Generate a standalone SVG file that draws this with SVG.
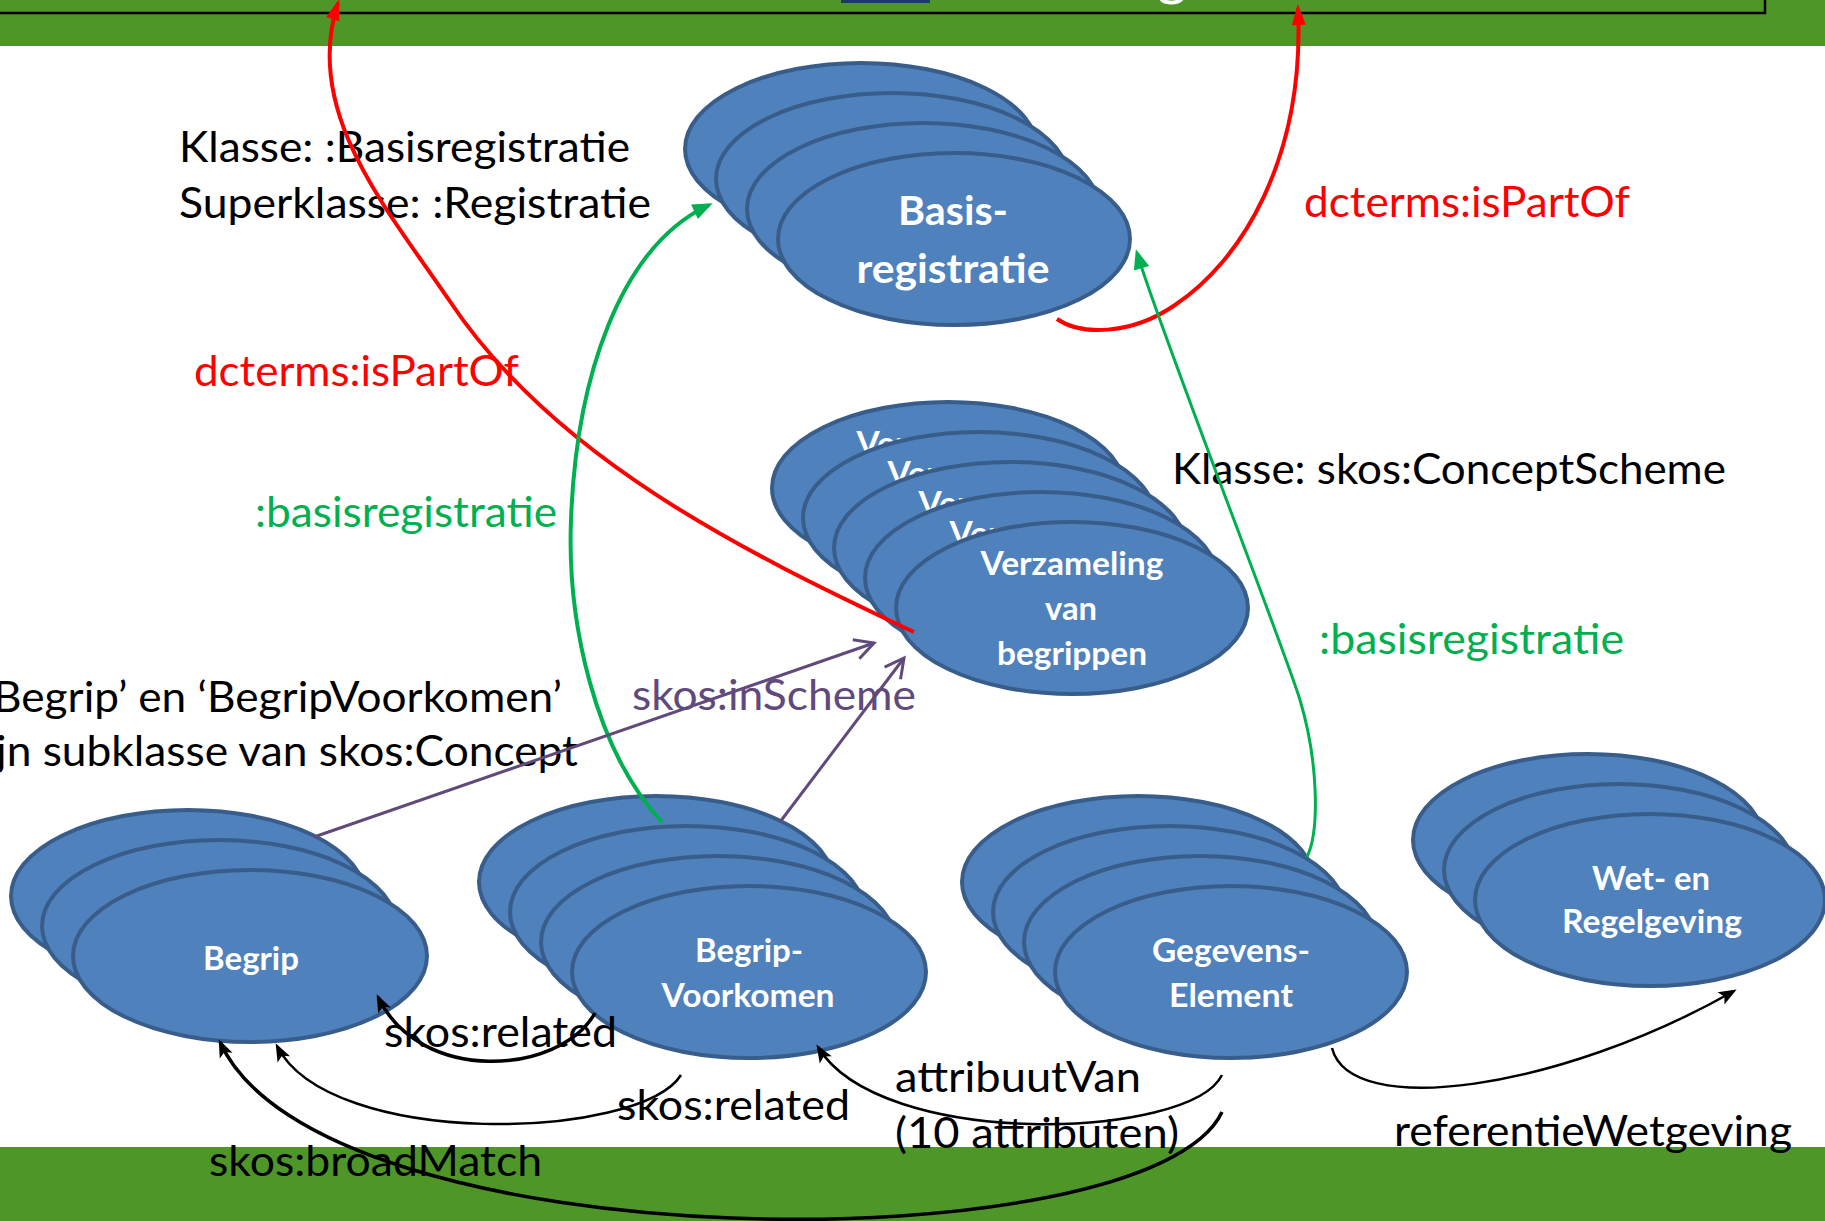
<svg xmlns="http://www.w3.org/2000/svg" width="1825" height="1221" viewBox="0 0 1825 1221">
<style>
.bg{fill:#ffffff}
.band{fill:#4F9628}
.el{fill:#4F81BD;stroke:#385D8A;stroke-width:4}
.nt{font-family:Lato,"Open Sans",sans-serif;font-weight:bold;fill:#ffffff;font-size:32px;text-anchor:middle}
.nt.big{font-size:40px}
.lbl{font-family:Lato,"Open Sans",sans-serif;font-size:42px;fill:#000000}
.red{fill:#FF0000}
.grn{fill:#00B050}
.pur{fill:#604A7B}
.c{fill:none}
.cr{stroke:#FF0000;stroke-width:4}
.cg{stroke:#00B050;stroke-width:4}
.cg2{stroke:#00B050;stroke-width:3}
.cp{stroke:#604A7B;stroke-width:3}
.ck{stroke:#000000;stroke-width:3.5}
.ck2{stroke:#000000;stroke-width:2.5}
</style>
<defs>
<marker id="ar" viewBox="-22 -10 26 20" refX="0" refY="0" markerWidth="26" markerHeight="20" markerUnits="userSpaceOnUse" orient="auto">
<path d="M4,0 L-17,-7 L-17,7 Z" fill="#FF0000"/>
</marker>
<marker id="ag" viewBox="-22 -10 26 20" refX="0" refY="0" markerWidth="26" markerHeight="20" markerUnits="userSpaceOnUse" orient="auto">
<path d="M4,0 L-16,-8 L-16,8 Z" fill="#00B050"/>
</marker>
<marker id="ap" viewBox="-24 -14 28 28" refX="0" refY="0" markerWidth="28" markerHeight="28" markerUnits="userSpaceOnUse" orient="auto">
<path d="M-19,-10 L0,0 L-19,10" fill="none" stroke="#604A7B" stroke-width="3"/>
</marker>
<marker id="ak" viewBox="-20 -10 24 20" refX="0" refY="0" markerWidth="24" markerHeight="20" markerUnits="userSpaceOnUse" orient="auto">
<path d="M3,0 L-15,-7 L-11,0 L-15,7 Z" fill="#000000"/>
</marker>
</defs>

<rect class="bg" x="0" y="0" width="1825" height="1221"/>
<g id="frame">
<rect class="band" x="0" y="0" width="1825" height="46"/>
<rect class="band" x="0" y="1147" width="1825" height="74"/>
<rect x="-10" y="-100" width="1775" height="113" fill="none" stroke="#000000" stroke-width="2.5"/>
<rect x="841" y="0" width="89" height="3" fill="#1F3A60"/>
<text x="1172" y="-6" font-family="Lato,sans-serif" font-size="58" fill="#ffffff" text-anchor="middle">g</text>
</g>

<g id="node-basisregistratie">
<ellipse class="el" cx="861" cy="149" rx="176" ry="86"/>
<ellipse class="el" cx="892" cy="179" rx="176" ry="86"/>
<ellipse class="el" cx="923" cy="209" rx="176" ry="86"/>
<ellipse class="el" cx="954" cy="239" rx="176" ry="86"/>
<text class="nt big" x="953" y="225" textLength="110" lengthAdjust="spacingAndGlyphs">Basis-</text>
<text class="nt big" x="953" y="283" textLength="193" lengthAdjust="spacingAndGlyphs">registratie</text>
</g>

<g id="node-verzameling">
<ellipse class="el" cx="948" cy="488" rx="176" ry="86"/>
<text class="nt" x="948" y="455" textLength="183" lengthAdjust="spacingAndGlyphs">Verzameling</text>
<ellipse class="el" cx="979" cy="518" rx="176" ry="86"/>
<text class="nt" x="979" y="485" textLength="183" lengthAdjust="spacingAndGlyphs">Verzameling</text>
<ellipse class="el" cx="1010" cy="548" rx="176" ry="86"/>
<text class="nt" x="1010" y="515" textLength="183" lengthAdjust="spacingAndGlyphs">Verzameling</text>
<ellipse class="el" cx="1041" cy="578" rx="176" ry="86"/>
<text class="nt" x="1041" y="545" textLength="183" lengthAdjust="spacingAndGlyphs">Verzameling</text>
<ellipse class="el" cx="1072" cy="608" rx="176" ry="86"/>
<text class="nt" x="1072" y="575" textLength="183" lengthAdjust="spacingAndGlyphs">Verzameling</text>
<text class="nt" x="1071" y="620" textLength="52" lengthAdjust="spacingAndGlyphs">van</text>
<text class="nt" x="1072" y="665" textLength="150" lengthAdjust="spacingAndGlyphs">begrippen</text>
</g>

<g id="node-begrip">
<ellipse class="el" cx="188" cy="896" rx="177" ry="86"/>
<ellipse class="el" cx="219" cy="926" rx="177" ry="86"/>
<ellipse class="el" cx="250" cy="956" rx="177" ry="86"/>
<text class="nt" x="251" y="970" textLength="96" lengthAdjust="spacingAndGlyphs">Begrip</text>
</g>

<g id="node-begripvoorkomen">
<ellipse class="el" cx="656" cy="882" rx="177" ry="86"/>
<ellipse class="el" cx="687" cy="912" rx="177" ry="86"/>
<ellipse class="el" cx="718" cy="942" rx="177" ry="86"/>
<ellipse class="el" cx="749" cy="972" rx="177" ry="86"/>
<text class="nt" x="749" y="962" textLength="108" lengthAdjust="spacingAndGlyphs">Begrip-</text>
<text class="nt" x="748" y="1007" textLength="173" lengthAdjust="spacingAndGlyphs">Voorkomen</text>
</g>

<g id="node-gegevenselement">
<ellipse class="el" cx="1138" cy="882" rx="176" ry="86"/>
<ellipse class="el" cx="1169" cy="912" rx="176" ry="86"/>
<ellipse class="el" cx="1200" cy="942" rx="176" ry="86"/>
<ellipse class="el" cx="1231" cy="972" rx="176" ry="86"/>
<text class="nt" x="1231" y="962" textLength="158" lengthAdjust="spacingAndGlyphs">Gegevens-</text>
<text class="nt" x="1231" y="1007" textLength="124" lengthAdjust="spacingAndGlyphs">Element</text>
</g>

<g id="node-wetgeving">
<ellipse class="el" cx="1588" cy="840" rx="175" ry="86"/>
<ellipse class="el" cx="1619" cy="870" rx="175" ry="86"/>
<ellipse class="el" cx="1650" cy="900" rx="175" ry="86"/>
<text class="nt" x="1651" y="890" textLength="118" lengthAdjust="spacingAndGlyphs">Wet- en</text>
<text class="nt" x="1652" y="933" textLength="180" lengthAdjust="spacingAndGlyphs">Regelgeving</text>
</g>

<g id="labels">
<text class="lbl" x="179" y="162" textLength="451" lengthAdjust="spacingAndGlyphs">Klasse: :Basisregistratie</text>
<text class="lbl" x="179" y="218" textLength="472" lengthAdjust="spacingAndGlyphs">Superklasse: :Registratie</text>
<text class="lbl red" x="194" y="386" textLength="325" lengthAdjust="spacingAndGlyphs">dcterms:isPartOf</text>
<text class="lbl grn" x="255" y="527" textLength="302" lengthAdjust="spacingAndGlyphs">:basisregistratie</text>
<text class="lbl red" x="1304" y="217" textLength="326" lengthAdjust="spacingAndGlyphs">dcterms:isPartOf</text>
<text class="lbl" x="1172" y="484" textLength="554" lengthAdjust="spacingAndGlyphs">Klasse: skos:ConceptScheme</text>
<text class="lbl grn" x="1319" y="654" textLength="305" lengthAdjust="spacingAndGlyphs">:basisregistratie</text>
<text class="lbl" x="-7" y="712" textLength="569" lengthAdjust="spacingAndGlyphs">Begrip’ en ‘BegripVoorkomen’</text>
<text class="lbl" x="-4" y="766" textLength="582" lengthAdjust="spacingAndGlyphs">jn subklasse van skos:Concept</text>
<text class="lbl pur" x="632" y="710" textLength="284" lengthAdjust="spacingAndGlyphs">skos:inScheme</text>
<text class="lbl" x="384" y="1047" textLength="233" lengthAdjust="spacingAndGlyphs">skos:related</text>
<text class="lbl" x="617" y="1120" textLength="233" lengthAdjust="spacingAndGlyphs">skos:related</text>
<text class="lbl" x="895" y="1092" textLength="246" lengthAdjust="spacingAndGlyphs">attribuutVan</text>
<text class="lbl" x="895" y="1148" textLength="284" lengthAdjust="spacingAndGlyphs">(10 attributen)</text>
<text class="lbl" x="209" y="1176" textLength="333" lengthAdjust="spacingAndGlyphs">skos:broadMatch</text>
<text class="lbl" x="1394" y="1146" textLength="398" lengthAdjust="spacingAndGlyphs">referentieWetgeving</text>
</g>

<g id="connectors" class="c">
<path class="c cr" d="M914,632 C742,551 554,458 449,300 C388,210 302,112 338,3" marker-end="url(#ar)"/>
<path class="c cr" d="M1057,319 C1080,335 1130,336 1175,305 C1240,262 1305,160 1298,8" marker-end="url(#ar)"/>
<path class="c cg" d="M662,822 C594,749 567,620 571,520 C576,380 619,247 709,205" marker-end="url(#ag)"/>
<path class="c cg2" d="M1307,857 C1320,830 1318,760 1300,700 C1285,650 1160,330 1137,253" marker-end="url(#ag)"/>
<path class="c cp" d="M314,837 L874,643" marker-end="url(#ap)"/>
<path class="c cp" d="M780,822 L904,658" marker-end="url(#ap)"/>
<path class="c ck" d="M595,1013 C560,1075 420,1085 378,997" marker-end="url(#ak)"/>
<path class="c ck2" d="M681,1075 C640,1140 330,1150 277,1046" marker-end="url(#ak)"/>
<path class="c ck" d="M1222,1112 C1150,1265 320,1265 220,1042" marker-end="url(#ak)"/>
<path class="c ck2" d="M1222,1075 C1190,1140 880,1150 818,1047" marker-end="url(#ak)"/>
<path class="c ck2" d="M1332,1048 C1350,1120 1560,1090 1734,991" marker-end="url(#ak)"/>
</g>
</svg>
